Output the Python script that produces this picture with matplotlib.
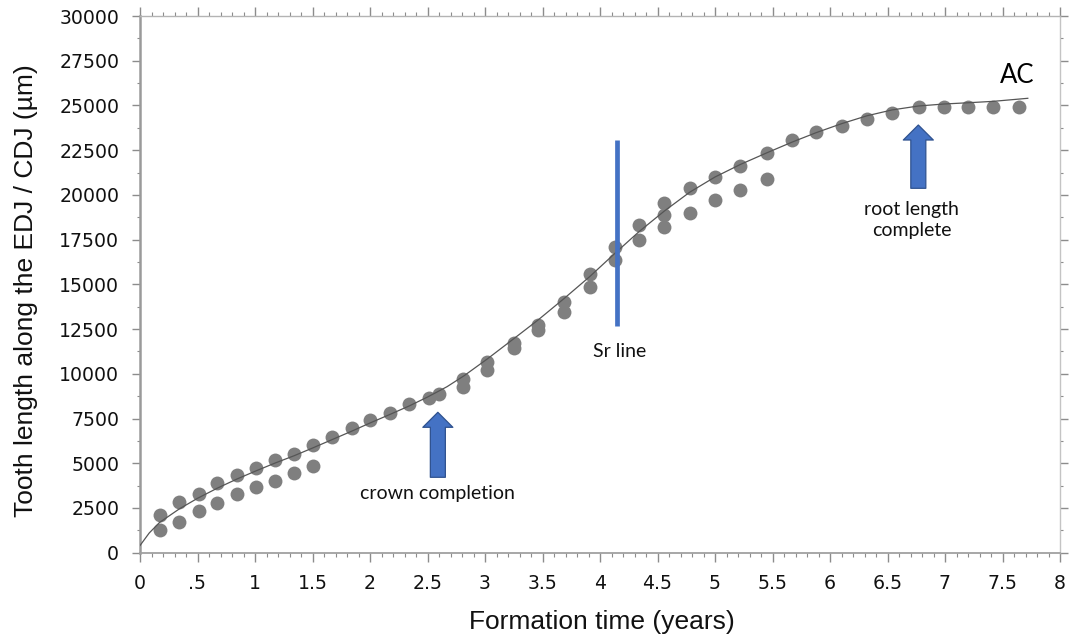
import matplotlib
matplotlib.use("Agg")
import matplotlib.pyplot as plt
from matplotlib.patches import FancyArrowPatch
from matplotlib.ticker import MultipleLocator, FixedLocator

# ---- data ----
ages = [0.17, 0.17, 0.34, 0.34, 0.51, 0.51, 0.67, 0.67, 0.84, 0.84,
        1.01, 1.01, 1.17, 1.17, 1.34, 1.34, 1.50, 1.50, 1.67, 1.84,
        2.00, 2.17, 2.34, 2.51, 2.60, 2.81, 2.81, 3.02, 3.02, 3.25, 3.25,
        3.46, 3.46, 3.69, 3.69, 3.91, 3.91, 4.13, 4.13, 4.34, 4.34,
        4.56, 4.56, 4.56, 4.78, 4.78, 5.00, 5.00, 5.22, 5.22, 5.45, 5.45,
        5.67, 5.88, 6.10, 6.32, 6.54, 6.77, 6.99, 7.20, 7.42, 7.64]
lengths = [2107, 1269, 2820, 1733, 3300, 2340, 3879, 2795, 4360, 3281,
           4718, 3645, 5182, 4015, 5540, 4472, 6020, 4830, 6484, 6990,
           7440, 7810, 8290, 8640, 8870, 9720, 9279, 10676, 10200, 11705, 11425,
           12728, 12448, 14030, 13471, 15578, 14869, 17105, 16361, 18317, 17479,
           19530, 18876, 18223, 20369, 19005, 21017, 19715, 21615, 20274, 22325, 20872,
           23068, 23533, 23852, 24225, 24594, 24930, 24930, 24930, 24930, 24930]

trend_x = [0.0, 0.08, 0.17, 0.34, 0.50, 0.67, 0.84, 1.00, 1.17, 1.34, 1.50,
           1.67, 1.84, 2.00, 2.17, 2.34, 2.50, 2.67, 2.82, 3.02, 3.25, 3.46,
           3.69, 3.91, 4.13, 4.34, 4.56, 4.78, 5.00, 5.22, 5.45, 5.67, 5.88,
           6.10, 6.32, 6.54, 6.77, 6.99, 7.20, 7.42, 7.72]
trend_y = [400, 1100, 1690, 2440, 3040, 3600, 4110, 4550, 5000, 5420, 5850,
           6320, 6790, 7250, 7720, 8200, 8700, 9280, 9900, 10830, 11960, 13000,
           14220, 15430, 16735, 17950, 19100, 20150, 21000, 21700, 22350, 22950, 23480,
           23980, 24420, 24750, 24970, 25080, 25150, 25230, 25400]

x_ticks = [0, 0.5, 1, 1.5, 2, 2.5, 3, 3.5, 4, 4.5, 5, 5.5, 6, 6.5, 7, 7.5, 8]
x_tick_labels = ['0', '.5', '1', '1.5', '2', '2.5', '3', '3.5', '4', '4.5',
                 '5', '5.5', '6', '6.5', '7', '7.5', '8']
y_ticks = [0, 2500, 5000, 7500, 10000, 12500, 15000, 17500, 20000,
           22500, 25000, 27500, 30000]

sr_x = 4.145
sr_range = [12672, 23068]
crown_arrow = [2.59, 4215, 7848]
root_arrow = [6.768, 20369, 23907]

# ---- figure ----
fig = plt.figure(figsize=(10.77, 6.39), dpi=100)
ax = fig.add_axes([140/1077, 1-552.7/639, 920/1077, 536.7/639])

dot_c = '#7f7f7f'
blue = '#4472C4'
blue_edge = '#2F528F'

ax.plot(ages, lengths, 'o', ms=10, mew=0, color=dot_c, zorder=3)
ax.plot(trend_x, trend_y, '-', color='#555555', lw=0.9, zorder=4)

ax.plot([sr_x, sr_x], sr_range, color=blue, lw=3.4, solid_capstyle='butt', zorder=5)

for ax_x, y0, y1 in (crown_arrow, root_arrow):
    arr = FancyArrowPatch((ax_x, y0), (ax_x, y1),
                          arrowstyle='simple,head_length=1,head_width=2,tail_width=1',
                          mutation_scale=10.8, fc=blue, ec=blue_edge, lw=0.9,
                          shrinkA=0, shrinkB=0, zorder=6)
    ax.add_patch(arr)

ann_font = ['Lato', 'DejaVu Sans']
ax.text(2.59, 3337, 'crown completion', ha='center', va='center',
        fontsize=14, family=ann_font, color='#111111')
ax.text(4.174, 11263, 'Sr line', ha='center', va='center',
        fontsize=14, family=ann_font, color='#111111')
ax.text(6.71, 18597, 'root length\ncomplete', ha='center', va='center',
        fontsize=14, family=ann_font, linespacing=1.35, color='#111111')
ax.text(7.626, 26700, 'AC', ha='center', va='center',
        fontsize=18.5, family=ann_font, color='#000000')

ax.set_xlim(0, 8)
ax.set_ylim(0, 30000)

ax.xaxis.set_major_locator(FixedLocator(x_ticks))
ax.set_xticklabels(x_tick_labels)
ax.xaxis.set_minor_locator(MultipleLocator(0.1))
ax.yaxis.set_major_locator(FixedLocator(y_ticks))
ax.yaxis.set_minor_locator(MultipleLocator(1250))

tick_c = '#8c8c8c'
ax.tick_params(axis='x', which='major', direction='out', length=6.5, width=1,
               color=tick_c, top=True, labelsize=13.6, pad=9, labelcolor='#111111')
ax.tick_params(axis='x', which='minor', direction='out', length=3, width=0.8,
               color=tick_c, top=True)
ax.tick_params(axis='y', which='major', direction='out', length=6, width=1,
               color=tick_c, right=True, labelsize=13.6, pad=9, labelcolor='#111111')
ax.tick_params(axis='y', which='minor', direction='out', length=2.5, width=0.8,
               color=tick_c, right=True)
for lab in ax.get_xticklabels() + ax.get_yticklabels():
    lab.set_family('DejaVu Sans')

ax.spines['left'].set_color('#9a9a9a')
ax.spines['left'].set_linewidth(1.8)
ax.spines['bottom'].set_color('#a0a0a0')
ax.spines['bottom'].set_linewidth(1.3)
ax.spines['top'].set_color('#b4b4b4')
ax.spines['top'].set_linewidth(1.0)
ax.spines['right'].set_color('#c4c4c4')
ax.spines['right'].set_linewidth(1.0)

lab_font = ['Liberation Sans', 'DejaVu Sans']
fig.text(602/1077, 1-622/639, 'Formation time (years)', ha='center', va='center',
         fontsize=19, family=lab_font, color='#111111')
fig.text(26/1077, 1-291/639, 'Tooth length along the EDJ / CDJ (µm)', ha='center',
         va='center', rotation=90, fontsize=19, family=lab_font, color='#111111')

fig.savefig('out.png', dpi=100)
